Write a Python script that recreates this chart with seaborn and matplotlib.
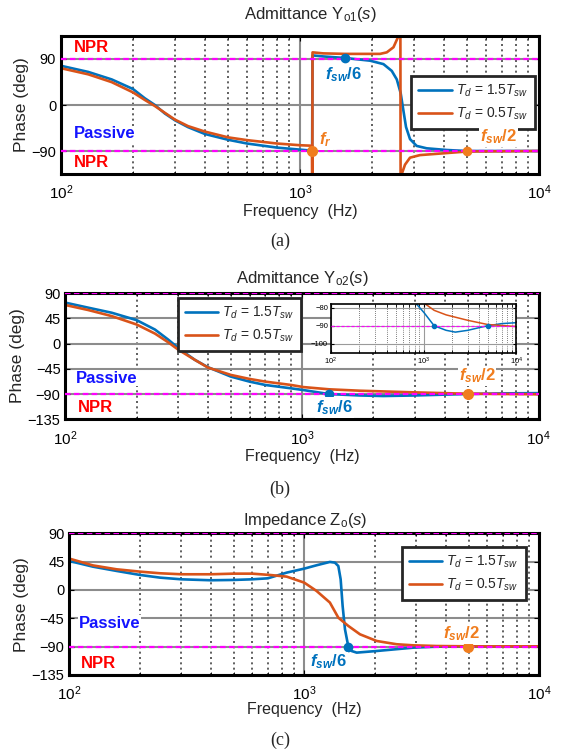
import pandas as pd
import matplotlib
matplotlib.use('Agg')
from matplotlib import pyplot as plt
from matplotlib.ticker import LogLocator, NullLocator, NullFormatter
import seaborn as sns

# phase curves
a_freq_15 = [100, 130, 163, 200, 224, 247, 272, 300, 340, 400, 500, 600, 800, 1000, 1101, 1124, 1128,
             1250, 1542, 1963, 2234, 2421, 2541, 2638, 2706, 2777, 2886, 3076, 3388, 4110, 4981, 10000]
a_phase_15 = [76.7, 64.7, 50, 31.3, 13.3, 0, -16.7, -30, -43.3, -56.7, -68, -75.3, -83.3, -87.3, -89,
              -90, 97, 95, 92, 86.7, 80, 66.7, 50, 23, -10, -43, -66.7, -80, -84.7, -88, -90, -90]
a_freq_05 = [100, 130, 163, 200, 224, 247, 272, 300, 340, 400, 500, 600, 800, 1000, 1101, 1122, 1124,
             1126, 1128, 1250, 1542, 2163, 2307, 2461, 2555, 2604, 2630, 2636, 2665, 2750, 2886, 3176,
             4110, 4981, 10000]
a_phase_05 = [72, 60, 44.7, 24.7, 10, -2, -15.3, -28.7, -41.3, -52, -63.3, -68.7, -75.3, -78.7, -79.5,
              -80, -160, -160, 103, 101, 100, 100, 103, 113, 130, 138, 170, -170, -135, -116.7, -103,
              -98, -94, -91, -90]

b_freq_15 = [100, 125, 157, 200, 239, 272, 300, 352, 400, 500, 600, 700, 900, 1012, 1300, 1750, 2200,
             3000, 4000, 4900, 7000, 10000]
b_phase_15 = [73.2, 64.2, 55.2, 42, 25.2, 7.2, -7.8, -28.8, -42, -58.8, -67.8, -73.8, -79.8, -82.8,
              -90, -92.5, -93.5, -92.5, -91, -90, -88.8, -88.3]
b_freq_05 = [100, 125, 157, 200, 239, 272, 300, 352, 400, 500, 600, 700, 900, 1012, 1300, 1750, 3000,
             4900, 10000]
b_phase_05 = [69, 60, 49.2, 34.2, 18, 2.4, -10.8, -28.8, -42.6, -55.8, -63, -67.8, -73.8, -77.5, -81.5,
              -84, -87, -89.3, -90.4]

c_freq_15 = [100, 126, 159, 200, 243, 300, 400, 500, 600, 700, 841, 1000, 1128, 1285, 1350, 1396, 1428,
             1456, 1490, 1538, 1589, 1671, 2033, 2911, 3656, 4990, 10000]
c_phase_15 = [46, 37, 30.2, 23.8, 19.6, 16.9, 15.4, 15.9, 16.9, 18.5, 27.5, 33.9, 39.2, 44.5, 43.4, 38,
              17, -25.4, -62.5, -89, -96.9, -99.5, -96.9, -91.6, -90, -89.5, -89.5]
c_freq_05 = [100, 126, 159, 200, 243, 300, 400, 500, 600, 714, 841, 1000, 1128, 1285, 1396, 1538, 1726,
             2033, 2472, 2911, 3656, 4990, 10000]
c_phase_05 = [49.8, 39, 32.8, 29.1, 26.5, 24.9, 24.9, 25.9, 25.9, 23.8, 21.2, 11.6, -1.6, -20, -44, -57,
              -70.4, -81, -86.2, -87.9, -89, -89.5, -89.5]

labels = [r'$T_d$ = 1.5$T_{sw}$', r'$T_d$ = 0.5$T_{sw}$']
blue = '#0072BD'
orange = '#D95319'
light_orange = '#F07D1E'

sns.set_style('ticks')
plt.rcParams['font.family'] = ['Liberation Sans', 'DejaVu Sans']
plt.rcParams['mathtext.fontset'] = 'custom'
plt.rcParams['mathtext.rm'] = 'Liberation Sans'
plt.rcParams['mathtext.it'] = 'Liberation Sans:italic'
plt.rcParams['mathtext.bf'] = 'Liberation Sans:bold'
plt.rcParams['mathtext.bfit'] = 'Liberation Sans:italic:bold'

fig = plt.figure(figsize=(5.66, 7.53), dpi=100)
ax_a = fig.add_axes([0.1078, 0.7689, 0.8445, 0.1833])
ax_b = fig.add_axes([0.1155, 0.4432, 0.8364, 0.1681])
ax_c = fig.add_axes([0.1224, 0.1036, 0.8304, 0.1882])
ax_in = fig.add_axes([0.5846, 0.5312, 0.3276, 0.0651])


def style(ax, yticks, ylim, size=10.5):
    ax.set_xscale('log')
    ax.set_xlim(100, 1e4)
    ax.set_ylim(ylim)
    ax.set_yticks(yticks)
    ax.xaxis.set_minor_locator(LogLocator(base=10, subs=range(2, 10)))
    ax.xaxis.set_minor_formatter(NullFormatter())
    ax.yaxis.set_minor_locator(NullLocator())
    ax.grid(which='major', axis='both', color='#8c8c8c', lw=1.5, ls='-')
    ax.grid(which='minor', axis='x', color='#444444', lw=1.2, ls=(0, (1.2, 2)))
    ax.set_axisbelow(True)
    for s in ax.spines.values():
        s.set_linewidth(2.2)
        s.set_color('black')
    ax.tick_params(which='both', direction='in', top=True, right=True, labelsize=size, colors='black')


def curves(ax, f15, p15, f05, p05, lw=1.9, legend=True):
    sns.lineplot(x=f15, y=p15, ax=ax, color=blue, lw=lw, sort=False, estimator=None,
                 label=labels[0] if legend else None)
    sns.lineplot(x=f05, y=p05, ax=ax, color=orange, lw=lw, sort=False, estimator=None,
                 label=labels[1] if legend else None)


def npr_lines(ax, levels, lw=1.6):
    for lev in levels:
        ax.axhline(lev, color='#FF00FF', lw=lw, ls=(0, (2.5, 1.5)), zorder=3)


def labels_xy(ax):
    ax.set_xlabel('Frequency  (Hz)', fontsize=11.5, labelpad=1)
    ax.set_ylabel('Phase (deg)', fontsize=12.5, labelpad=2)
    ax.tick_params(axis='x', pad=7, labelsize=11)


def legend(ax, loc, anchor):
    lg = ax.legend(loc=loc, bbox_to_anchor=anchor, fontsize=10, handlelength=2.4, handletextpad=0.3,
                   fancybox=False, framealpha=1, borderpad=0.5, labelspacing=0.45, borderaxespad=0)
    lg.get_frame().set_edgecolor('#262626')
    lg.get_frame().set_linewidth(2)


def note(ax, x, y, txt, color, **kw):
    ax.text(x, y, txt, color=color, fontsize=12, fontweight='bold', va='center', zorder=6,
            bbox=dict(facecolor='white', edgecolor='none', pad=0.5), **kw)


def fsw(txt):
    return r'$\mathbfit{f}_{\mathbfit{sw}}$' + txt


# (a)
style(ax_a, [-90, 0, 90], (-135, 135))
curves(ax_a, a_freq_15, a_phase_15, a_freq_05, a_phase_05)
npr_lines(ax_a, [90, -90])
ax_a.plot([1542], [92], 'o', color=blue, ms=6, zorder=5)
ax_a.plot([1126], [-90], 'o', color=light_orange, ms=7, zorder=5)
ax_a.plot([4981], [-90], 'o', color=light_orange, ms=6, zorder=5)
legend(ax_a, 'upper right', ((535 - 61) / 478, (174 - 76) / 138))
labels_xy(ax_a)
note(ax_a, 113, 113, 'NPR', 'red')
note(ax_a, 113, -113, 'NPR', 'red')
note(ax_a, 113, -56.7, 'Passive', '#1414FF')
note(ax_a, 1274, 58.7, fsw('/6'), blue)
note(ax_a, 1205, -68, r'$\mathbfit{f}_{\mathbfit{r}}$', light_orange)
note(ax_a, 5662, -62, fsw('/2'), light_orange)

# (b)
style(ax_b, [-135, -90, -45, 0, 45, 90], (-135, 91))
curves(ax_b, b_freq_15, b_phase_15, b_freq_05, b_phase_05)
npr_lines(ax_b, [90, -90])
ax_b.plot([1300], [-90], 'o', color=blue, ms=6, zorder=5)
ax_b.plot([5000], [-90], 'o', color=light_orange, ms=7, zorder=5)
legend(ax_b, 'upper left', (0.237, 0.958))
labels_xy(ax_b)
note(ax_b, 111, -61.8, 'Passive', '#1414FF')
note(ax_b, 113, -114, 'NPR', 'red')
note(ax_b, 1146, -114, fsw('/6'), blue)
note(ax_b, 4580, -58, fsw('/2'), light_orange)

# inset of (b)
style(ax_in, [-100, -90, -80], (-105, -78), size=5.5)
ax_in.grid(which='major', axis='both', color='#9a9a9a', lw=0.8)
ax_in.grid(which='minor', axis='x', color='#555555', lw=0.6, ls=(0, (1, 1.5)))
for s in ax_in.spines.values():
    s.set_linewidth(1.2)
curves(ax_in, b_freq_15, b_phase_15, b_freq_05, b_phase_05, lw=1.1, legend=False)
npr_lines(ax_in, [-90], lw=0.9)
ax_in.plot([1300, 4900], [-90, -90], 'o', color=blue, ms=3, zorder=5)
ax_in.tick_params(axis='both', pad=2, length=2)

# (c)
style(ax_c, [-135, -90, -45, 0, 45, 90], (-135, 90))
curves(ax_c, c_freq_15, c_phase_15, c_freq_05, c_phase_05)
npr_lines(ax_c, [90, -90])
ax_c.plot([1538], [-90], 'o', color=blue, ms=6, zorder=5)
ax_c.plot([4990], [-90], 'o', color=light_orange, ms=7, zorder=5)
legend(ax_c, 'upper right', (0.971, 0.903))
labels_xy(ax_c)
ax_c.xaxis.labelpad = -1
note(ax_c, 110, -52.6, 'Passive', '#1414FF')
note(ax_c, 112, -116, 'NPR', 'red')
note(ax_c, 1057, -114, fsw('/6'), blue)
note(ax_c, 3909, -70, fsw('/2'), light_orange)

# titles and sub-captions
for txt, x, y in [(r'Admittance Y$_{\mathrm{o1}}$($s$)', 310, 15),
                  (r'Admittance Y$_{\mathrm{o2}}$($s$)', 302, 279),
                  (r'Impedance Z$_{\mathrm{o}}$($s$)', 305, 521)]:
    fig.text(x / 566, 1 - y / 753, txt, ha='center', va='center', fontsize=12)
for lab, y in [('(a)', 241), ('(b)', 489), ('(c)', 740)]:
    fig.text(280 / 566, 1 - y / 753, lab, ha='center', va='center', fontsize=13, family='Liberation Serif')

fig.savefig('out.png', dpi=100)
